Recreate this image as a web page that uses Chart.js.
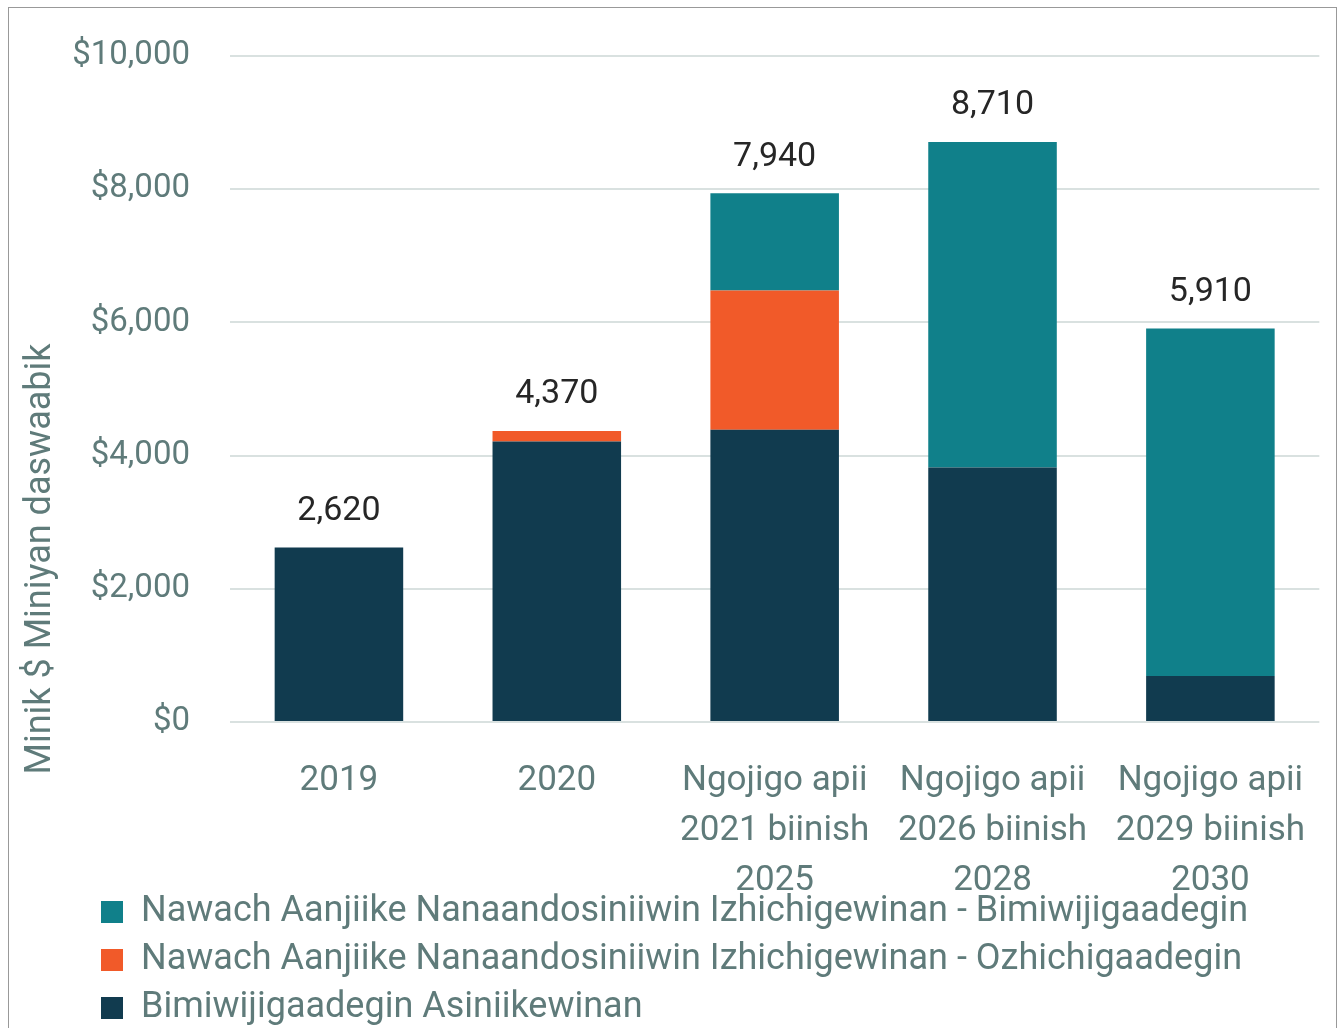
<!DOCTYPE html>
<html>
<head>
<meta charset="utf-8">
<script src="https://cdn.jsdelivr.net/npm/chart.js@4.4.0/dist/chart.umd.min.js"></script>
<style>
  html, body { margin: 0; padding: 0; background: #ffffff; overflow: hidden; width: 1341px; height: 1028px; }
  #wrap { position: relative; width: 1341px; height: 1028px; overflow: hidden; }
  #frame { position: absolute; left: 8px; top: 7px; width: 1329px; height: 1060px; border: 1.5px solid #999999; box-sizing: border-box; pointer-events: none; }
  canvas { position: absolute; left: 0; top: 0; }
</style>
</head>
<body>
<div id="wrap">
  <canvas id="c" width="1341" height="1066"></canvas>
  <div id="frame"></div>
</div>
<script>
const categories = [
  ["2019"],
  ["2020"],
  ["Ngojigo apii", "2021 biinish", "2025"],
  ["Ngojigo apii", "2026 biinish", "2028"],
  ["Ngojigo apii", "2029 biinish", "2030"]
];
const seriesNames = [
  "Bimiwijigaadegin Asiniikewinan",
  "Nawach Aanjiike Nanaandosiniiwin Izhichigewinan - Ozhichigaadegin",
  "Nawach Aanjiike Nanaandosiniiwin Izhichigewinan - Bimiwijigaadegin"
];
const baseValues = [2620, 4210, 4390, 3820, 690];
const builtValues = [0, 160, 2090, 0, 0];
const operatedValues = [0, 0, 1460, 4890, 5220];
const totalLabels = ["2,620", "4,370", "7,940", "8,710", "5,910"];
const yTicks = [0, 2000, 4000, 6000, 8000, 10000];
const yTitle = "Minik $ Miniyan daswaabik";

const FONT = "Roboto, 'Liberation Sans', sans-serif";
const GRAY = "#5f7b7a";

const totalsPlugin = {
  id: 'totals',
  afterDatasetsDraw(chart) {
    const ctx = chart.ctx;
    const y = chart.scales.y;
    const meta = chart.getDatasetMeta(0);
    ctx.save();
    ctx.font = "34px " + FONT;
    ctx.fillStyle = "#262626";
    ctx.textAlign = "center";
    ctx.textBaseline = "middle";
    categories.forEach((c, i) => {
      const total = baseValues[i] + builtValues[i] + operatedValues[i];
      const x = meta.data[i].x;
      ctx.fillText(totalLabels[i], x, y.getPixelForValue(total) - 36);
    });
    ctx.restore();
  }
};

const yTitlePlugin = {
  id: 'ytitle',
  afterDraw(chart) {
    const ctx = chart.ctx;
    ctx.save();
    ctx.translate(41, 559);
    ctx.rotate(-Math.PI / 2);
    ctx.font = "36px " + FONT;
    ctx.fillStyle = GRAY;
    ctx.textAlign = "center";
    ctx.textBaseline = "middle";
    ctx.fillText(yTitle, 0, 0);
    ctx.restore();
  }
};

const legendShift = {
  id: 'legendShift',
  afterLayout(chart) {
    const lg = chart.legend;
    if (lg) {
      lg.left += 89;
      lg.right += 89;
      lg.top -= 30;
      lg.bottom -= 30;
    }
  }
};

new Chart(document.getElementById('c'), {
  type: 'bar',
  data: {
    labels: categories,
    datasets: [
      { label: seriesNames[0], data: baseValues, backgroundColor: "#113b4f", borderWidth: 0 },
      { label: seriesNames[1], data: builtValues, backgroundColor: "#f15a29", borderWidth: 0 },
      { label: seriesNames[2], data: operatedValues, backgroundColor: "#10808a", borderWidth: 0 }
    ]
  },
  options: {
    responsive: false,
    animation: false,
    devicePixelRatio: 1,
    layout: { padding: { left: 0, right: 20, top: 56, bottom: 0 } },
    datasets: { bar: { barPercentage: 0.59, categoryPercentage: 1.0 } },
    scales: {
      x: {
        stacked: true,
        grid: { display: false, drawTicks: false },
        border: { display: false },
        ticks: {
          color: GRAY, font: { family: FONT, size: 35, lineHeight: 1.43 },
          padding: 34, maxRotation: 0, minRotation: 0, autoSkip: false
        },
        afterFit(scale) { scale.height = 190; }
      },
      y: {
        stacked: true,
        min: 0, max: 10000,
        afterBuildTicks(scale) { scale.ticks = yTicks.map(v => ({ value: v })); },
        grid: { color: "#d9e1e0", lineWidth: 2, drawTicks: false },
        border: { display: false },
        ticks: {
          color: GRAY, font: { family: FONT, size: 33 }, padding: 40,
          callback: (v) => "$" + Number(v).toLocaleString('en-US')
        },
        afterFit(scale) { scale.width = 230; scale.paddingTop = 20; scale.paddingBottom = 20; }
      }
    },
    plugins: {
      legend: {
        position: 'bottom',
        align: 'start',
        reverse: true,
        labels: {
          color: GRAY, font: { family: FONT, size: 36 },
          boxWidth: 22, boxHeight: 22, padding: 12
        }
      },
      tooltip: { enabled: false }
    }
  },
  plugins: [totalsPlugin, yTitlePlugin, legendShift]
});
</script>
</body>
</html>
